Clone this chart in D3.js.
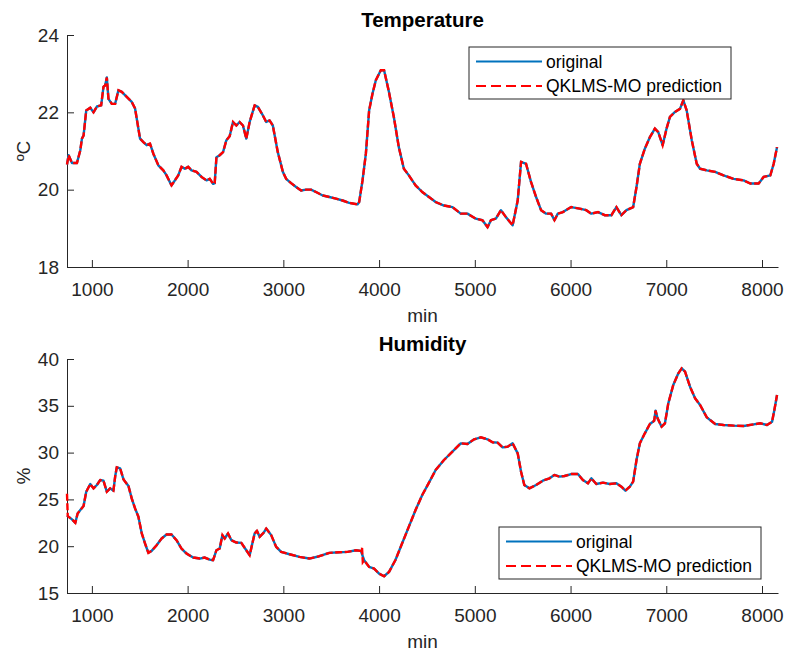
<!DOCTYPE html>
<html>
<head>
<meta charset="utf-8">
<script src="https://cdn.jsdelivr.net/npm/d3@7"></script>
<style>
  body { margin: 0; background: #fff; }
  svg { font-family: "Liberation Sans", Arial, Helvetica, sans-serif; }
</style>
</head>
<body>
<div id="chart"></div>
<script>
// minutes (x) and readings
const tempMin = [740,757,792,844,879,896,913,941,983,1017,1052,1097,1121,1139,1156,1173,1208,1243,1277,1312,1364,1416,1451,1503,1538,1572,1607,1642,1694,1746,1780,1832,1867,1902,1936,1971,2006,2041,2093,2145,2197,2231,2266,2283,2301,2335,2370,2405,2439,2474,2509,2543,2578,2613,2648,2700,2734,2786,2821,2856,2890,2942,2995,3029,3081,3133,3185,3237,3289,3341,3411,3480,3549,3619,3688,3775,3792,3827,3862,3896,3931,3966,4018,4052,4101,4154,4206,4259,4311,4381,4451,4521,4591,4678,4766,4853,4923,5010,5080,5133,5168,5220,5273,5325,5395,5448,5483,5535,5587,5640,5692,5745,5797,5832,5867,5920,6007,6094,6164,6217,6287,6357,6427,6479,6531,6584,6654,6689,6724,6776,6829,6881,6916,6962,7003,7038,7091,7143,7178,7213,7266,7318,7353,7423,7510,7598,7703,7808,7878,7965,8017,8087,8122,8157];
const tempOrig = [20.65,20.89,20.69,20.69,21.02,21.32,21.40,22.05,22.12,22.00,22.15,22.18,22.66,22.70,22.90,22.35,22.22,22.22,22.57,22.53,22.40,22.27,22.10,21.32,21.23,21.15,21.19,20.93,20.63,20.50,20.37,20.11,20.24,20.37,20.59,20.54,20.59,20.50,20.46,20.33,20.24,20.28,20.15,20.17,20.84,20.89,20.97,21.28,21.38,21.75,21.66,21.75,21.66,21.32,21.75,22.18,22.14,21.92,21.75,21.79,21.66,20.97,20.46,20.28,20.17,20.07,19.98,20.00,20.00,19.94,19.85,19.81,19.77,19.72,19.66,19.62,19.68,20.24,20.93,22.05,22.48,22.83,23.09,23.09,22.55,21.88,21.10,20.54,20.37,20.11,19.94,19.81,19.68,19.59,19.55,19.38,19.38,19.25,19.21,19.03,19.21,19.25,19.47,19.29,19.08,19.72,20.72,20.67,20.20,19.81,19.47,19.38,19.38,19.21,19.38,19.42,19.55,19.51,19.47,19.38,19.42,19.34,19.34,19.55,19.34,19.47,19.55,20.07,20.67,21.06,21.36,21.58,21.49,21.15,21.58,21.88,22.01,22.09,22.31,22.05,21.28,20.67,20.54,20.50,20.46,20.37,20.28,20.24,20.16,20.16,20.33,20.37,20.67,21.10];

const humMin = [740,792,827,851,879,913,941,983,1017,1052,1087,1121,1156,1191,1225,1243,1260,1295,1330,1382,1416,1451,1486,1521,1555,1590,1624,1676,1728,1780,1832,1884,1936,1989,2058,2127,2179,2231,2266,2301,2335,2363,2387,2422,2457,2509,2561,2613,2648,2700,2724,2752,2793,2821,2873,2925,2977,3064,3168,3272,3376,3480,3584,3671,3758,3810,3844,3896,3948,4000,4052,4104,4171,4241,4311,4381,4451,4521,4591,4678,4766,4853,4923,4993,5063,5133,5185,5238,5290,5343,5395,5448,5483,5517,5570,5640,5710,5780,5832,5885,5937,6007,6077,6129,6182,6217,6269,6339,6409,6479,6531,6573,6619,6654,6689,6724,6776,6829,6874,6888,6909,6951,6986,7021,7073,7126,7161,7196,7248,7301,7353,7423,7510,7598,7703,7808,7913,7983,8052,8105,8129,8157];
const humOrig = [23.30,22.86,22.50,23.50,23.86,24.29,25.82,26.64,26.18,26.54,27.07,27.00,25.82,26.18,25.93,27.43,28.43,28.32,27.14,26.43,25.11,24.04,23.14,21.36,20.29,19.29,19.50,20.11,20.82,21.25,21.25,20.64,19.75,19.21,18.79,18.68,18.79,18.57,18.50,19.57,19.75,21.18,20.82,21.36,20.64,20.39,20.36,19.57,19.04,21.36,21.64,21.00,21.43,21.89,21.18,19.93,19.39,19.14,18.86,18.68,18.93,19.29,19.36,19.39,19.57,19.50,18.50,17.79,17.61,17.07,16.79,17.25,18.53,20.31,22.09,23.87,25.47,26.79,28.14,29.21,30.10,30.99,30.92,31.42,31.63,31.42,31.10,31.06,30.56,30.63,30.99,29.92,27.96,26.54,26.18,26.54,27.00,27.25,27.61,27.43,27.50,27.71,27.71,27.07,26.72,27.25,26.65,26.79,26.65,26.72,26.36,25.93,26.36,26.90,29.21,30.99,32.06,33.06,33.41,34.48,33.66,32.77,33.13,35.26,37.22,38.47,39.00,38.65,37.04,35.80,35.09,33.77,33.06,32.95,32.88,32.84,33.02,33.13,32.95,33.30,34.55,36.15];

// points where the prediction leaves the original curve
const humPredMin = [740, 748, 3822, 3830];
const humPredVal = [25.6, 23.2, 19.8, 18.3];

const xTicks = [1000,2000,3000,4000,5000,6000,7000,8000];
const tempTicks = [18,20,22,24];
const humTicks = [15,20,25,30,35,40];
const seriesNames = ["original", "QKLMS-MO prediction"];

const W = 787, H = 655;
const BLUE = "#0072BD", RED = "#FF0000", AX = "#262626";

const svg = d3.select("#chart").append("svg")
  .attr("width", W).attr("height", H)
  .style("background", "#fff");

const x = d3.scaleLinear().domain([740, 8167]).range([67, 778]);

function zipPts(xs, ys) { return xs.map((v, i) => [v, ys[i]]); }

function drawPanel(p) {
  const y = d3.scaleLinear().domain(p.yDomain).range([p.bottom, p.top]);
  const g = svg.append("g");
  const line = d3.line().x(d => x(d[0])).y(d => y(d[1]));

  // x axis (ticks inward like matlab)
  const xa = g.append("g").attr("transform", `translate(0,${p.bottom})`)
    .call(d3.axisBottom(x).tickValues(xTicks).tickFormat(d3.format("d"))
      .tickSize(-7).tickPadding(11).tickSizeOuter(0));
  const ya = g.append("g").attr("transform", "translate(67,0)")
    .call(d3.axisLeft(y).tickValues(p.ticks).tickFormat(d3.format("d"))
      .tickSize(-7).tickPadding(8).tickSizeOuter(0));
  [xa, ya].forEach(a => {
    a.attr("font-size", null).attr("font-family", null);
    a.select(".domain").attr("stroke", AX).attr("stroke-width", 1);
    a.selectAll(".tick line").attr("stroke", AX);
    a.selectAll(".tick text").attr("fill", AX).style("font-size", "19px");
  });
  xa.selectAll(".tick text").attr("dy", "0.95em");

  const orig = zipPts(p.xs, p.ys);
  g.append("path").datum(orig).attr("d", line)
    .attr("fill", "none").attr("stroke", BLUE).attr("stroke-width", 2.4)
    .attr("stroke-linejoin", "round");
  g.append("path").datum(p.pred).attr("d", line)
    .attr("fill", "none").attr("stroke", RED).attr("stroke-width", 2.4)
    .attr("stroke-dasharray", "7,2.5");

  g.append("text").attr("x", 422.5).attr("y", p.top - 8)
    .attr("text-anchor", "middle").style("font-size", "20.5px").style("font-weight", "bold")
    .attr("fill", "#000").text(p.title);
  g.append("text").attr("x", 422.5).attr("y", p.bottom + 55)
    .attr("text-anchor", "middle").style("font-size", "19px").attr("fill", AX).text("min");
  g.append("text").attr("transform", `translate(30,${(p.top + p.bottom) / 2}) rotate(-90)`)
    .attr("text-anchor", "middle").style("font-size", "19px").attr("fill", AX).text(p.ylabel);

  // legend
  const lg = g.append("g").attr("transform", `translate(${p.legend[0]},${p.legend[1]})`);
  lg.append("rect").attr("width", 262).attr("height", 52)
    .attr("fill", "#fff").attr("stroke", AX).attr("stroke-width", 1);
  seriesNames.forEach((name, i) => {
    const yy = 14.5 + i * 24.5;
    lg.append("line").attr("x1", 7).attr("x2", 73).attr("y1", yy).attr("y2", yy)
      .attr("stroke", i ? RED : BLUE).attr("stroke-width", 2.2)
      .attr("stroke-dasharray", i ? "10,5" : null);
    lg.append("text").attr("x", 77).attr("y", yy).attr("dy", "0.36em")
      .style("font-size", "17.5px").attr("fill", "#000").text(name);
  });
}

// merge the prediction's departures into the original trace
function withFixes(xs, ys, fx, fy) {
  const pts = zipPts(xs, ys).filter(d => !fx.some(v => Math.abs(v - d[0]) < 12));
  return pts.concat(zipPts(fx, fy)).sort((a, b) => a[0] - b[0]);
}

drawPanel({
  title: "Temperature", ylabel: "ºC", yDomain: [18, 24], ticks: tempTicks,
  top: 35, bottom: 267, xs: tempMin, ys: tempOrig,
  pred: zipPts(tempMin, tempOrig), legend: [469, 47]
});
drawPanel({
  title: "Humidity", ylabel: "%", yDomain: [15, 40], ticks: humTicks,
  top: 359, bottom: 593, xs: humMin, ys: humOrig,
  pred: withFixes(humMin, humOrig, humPredMin, humPredVal), legend: [499, 527]
});
</script>
</body>
</html>
